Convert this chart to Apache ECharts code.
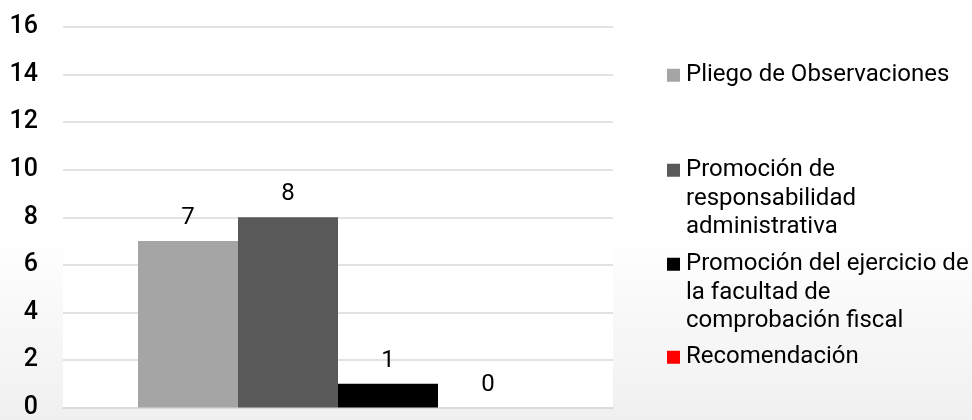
<!DOCTYPE html>
<html>
<head>
<meta charset="utf-8">
<script src="https://cdn.jsdelivr.net/npm/echarts@6/dist/echarts.min.js"></script>
<style>html,body{margin:0;padding:0;background:#fff}#c{width:972px;height:420px}</style>
</head>
<body>
<div id="c"></div>
<script>
var categories = [''];
var seriesNames = ['Pliego de Observaciones', 'Promoción de responsabilidad administrativa', 'Promoción del ejercicio de la facultad de comprobación fiscal', 'Recomendación'];
var legendLabels = ['Pliego de Observaciones', 'Promoción de\nresponsabilidad\nadministrativa', 'Promoción del ejercicio de\nla facultad de\ncomprobación fiscal', 'Recomendación'];
var valuesPliego = [7];
var valuesResponsabilidad = [8];
var valuesFiscal = [1];
var valuesRecomendacion = [0];
var yTicks = [0, 2, 4, 6, 8, 10, 12, 14, 16];

var colors = ['#a5a5a5', '#595959', '#000000', '#ff0000'];
var allValues = [valuesPliego, valuesResponsabilidad, valuesFiscal, valuesRecomendacion];
var FONT = 'Roboto';
var LH = 28.5;

var legendTops = [61, 156, 250, 343];
var legendLines = [1, 3, 3, 1];
function iconFor(lines) {
  if (lines === 1) return { icon: 'rect', h: 13 };
  var blockH = lines * LH;
  var H = blockH - 2 * ((LH - 13) / 2);
  return { icon: 'path://M0,0h13v13h-13z M0,' + (H - 0.01) + 'h0.01v0.01h-0.01z', h: H };
}
var legends = seriesNames.map(function (n, i) {
  var ic = iconFor(legendLines[i]);
  return {
    data: [{ name: n, icon: ic.icon }],
    left: 667, top: legendTops[i], padding: 0,
    itemWidth: 13, itemHeight: ic.h, itemGap: 0,
    selectedMode: false,
    formatter: function () { return legendLabels[i]; },
    textStyle: { fontFamily: FONT, fontSize: 24, lineHeight: LH, color: '#000', padding: [0, 0, 0, 1] }
  };
});

var chart = echarts.init(document.getElementById('c'), null, { renderer: 'canvas' });
chart.setOption({
  animation: false,
  backgroundColor: {
    type: 'linear', x: 0, y: 0, x2: 0, y2: 1,
    colorStops: [{ offset: 0, color: '#ffffff' }, { offset: 0.55, color: '#ffffff' }, { offset: 1, color: '#f0f0f0' }]
  },
  grid: { left: 63, right: 359, top: 27, bottom: 8, show: true, backgroundColor: '#ffffff', borderWidth: 0 },
  legend: legends,
  xAxis: {
    type: 'category', data: categories,
    axisLine: { lineStyle: { color: '#d9d9d9', width: 1.5 } },
    axisTick: { show: false }, axisLabel: { show: false }
  },
  yAxis: {
    type: 'value', min: yTicks[0], max: yTicks[yTicks.length - 1], interval: 2,
    axisLine: { show: false }, axisTick: { show: false },
    axisLabel: { fontFamily: FONT, fontSize: 25, fontWeight: 500, color: '#000', margin: 25 },
    splitLine: { lineStyle: { color: '#d9d9d9', width: 1.5 } }
  },
  series: seriesNames.map(function (n, i) {
    return {
      name: n, type: 'bar', data: allValues[i],
      barWidth: 100, barGap: '0%',
      itemStyle: { color: colors[i] },
      label: { show: true, position: 'top', distance: 11, fontFamily: FONT, fontSize: 24, color: '#000' }
    };
  })
});
</script>
</body>
</html>
